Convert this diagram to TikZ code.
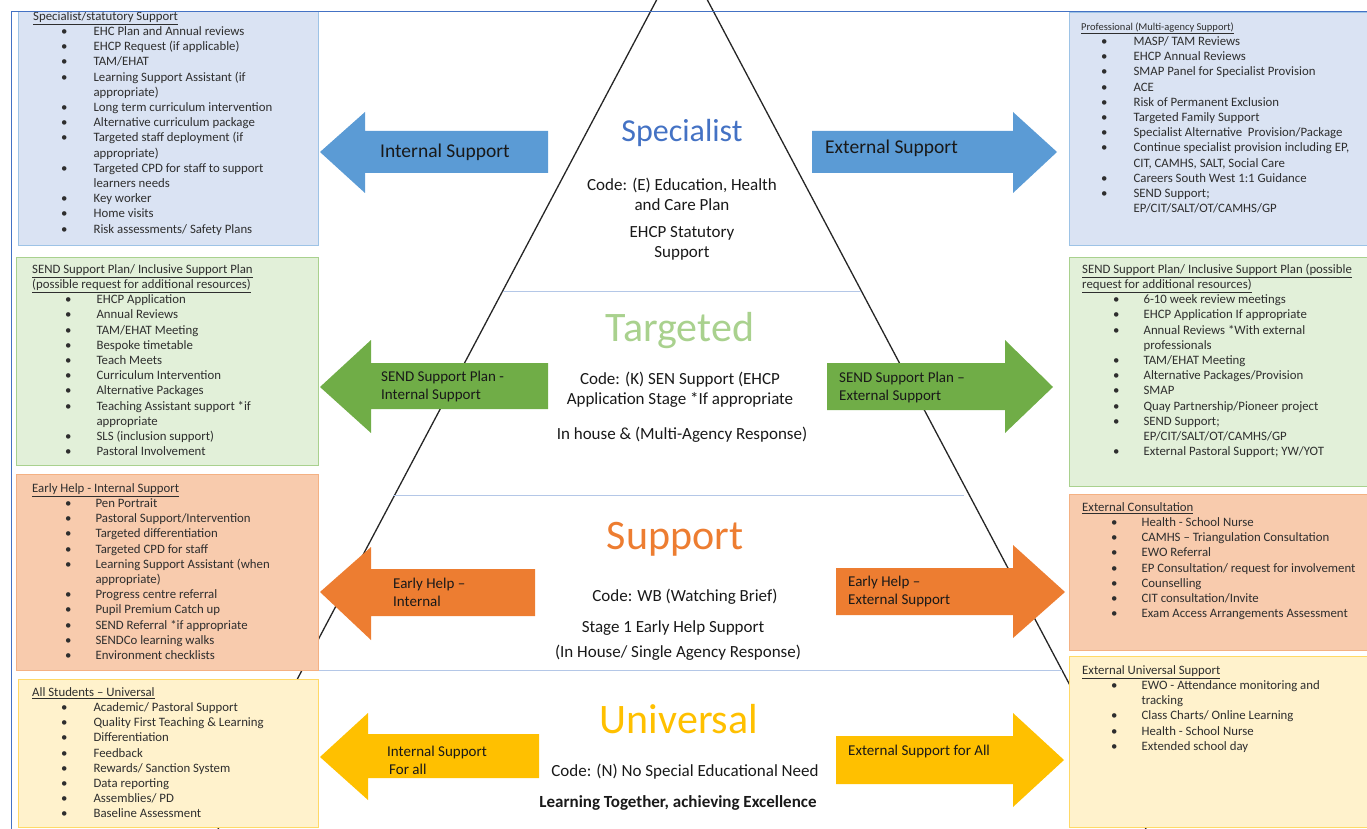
\documentclass[tikz,border=0pt]{standalone}
\usepackage{fontspec}
\setmainfont{Carlito}
\usepackage{tikz}

\definecolor{spblue}{HTML}{5B9BD5}
\definecolor{sptitle}{HTML}{4472C4}
\definecolor{spfill}{HTML}{DAE3F3}
\definecolor{spedge}{HTML}{9DC3E6}
\definecolor{tggreen}{HTML}{70AD47}
\definecolor{tgtitle}{HTML}{A9D18E}
\definecolor{tgfill}{HTML}{E2F0D9}
\definecolor{tgedge}{HTML}{A9D18E}
\definecolor{suorange}{HTML}{ED7D31}
\definecolor{sufill}{HTML}{F8CBAD}
\definecolor{suedge}{HTML}{F4B183}
\definecolor{unyellow}{HTML}{FFC000}
\definecolor{unfill}{HTML}{FFF2CC}
\definecolor{unedge}{HTML}{FFD966}
\definecolor{divline}{HTML}{B4C7E7}
\definecolor{bodytext}{HTML}{2E2E2E}

\newcommand{\btitle}[1]{\multicolumn{2}{@{}l@{}}{\underline{#1}}}
\newcommand{\blist}[3]{\begin{tabular}{@{\hspace{#1pt}}l@{\hspace{#2pt}}l@{}}#3\end{tabular}}

\tikzset{
	infobox/.style={anchor=north west, inner sep=0pt, line width=1.2pt},
	boxtext/.style={anchor=north west, inner sep=0pt, text=bodytext, font=\fontsize{12.8}{15.2}\selectfont},
	arrowtext/.style={anchor=west, align=left, inner sep=0pt, text=black!90, font=\fontsize{15}{18}\selectfont},
	leveltitle/.style={inner sep=0pt, font=\fontsize{42}{44}\selectfont},
	codetext/.style={align=center, inner sep=0pt, text=black!90, font=\fontsize{17}{20}\selectfont}
}

\begin{document}
\begin{tikzpicture}[x=1pt,y=-1pt]
		\useasboundingbox (0,0) rectangle (1367,829);

		%pyramid sides:
		\coordinate (apex) at (682,-48);
		\coordinate (baseL) at (218,829);
		\coordinate (baseR) at (1146,829);
		\draw[black!85, line width=1.3pt] (apex) -- (baseL);
		\draw[black!85, line width=1.3pt] (apex) -- (baseR);

		%level dividers:
		\draw[divline, line width=1pt] (503,291) -- (861,291);
		\draw[divline, line width=1pt] (393,495) -- (964,495);
		\draw[divline, line width=1pt] (302,670) -- (1062,670);

		%left boxes:
		\node[infobox, fill=spfill, draw=spedge, minimum width=300pt, minimum height=234pt] (lbox1) at (18,11) {};
		\node[infobox, fill=tgfill, draw=tgedge, minimum width=302pt, minimum height=208pt] (lbox2) at (16,257) {};
		\node[infobox, fill=sufill, draw=suedge, minimum width=302pt, minimum height=196pt] (lbox3) at (16,474) {};
		\node[infobox, fill=unfill, draw=unedge, minimum width=300pt, minimum height=148pt] (lbox4) at (18,679) {};

		%right boxes:
		\node[infobox, fill=spfill, draw=spedge, minimum width=298pt, minimum height=233pt] (rbox1) at (1069,12) {};
		\node[infobox, fill=tgfill, draw=tgedge, minimum width=298pt, minimum height=229pt] (rbox2) at (1069,257) {};
		\node[infobox, fill=sufill, draw=suedge, minimum width=298pt, minimum height=156pt] (rbox3) at (1069,494) {};
		\node[infobox, fill=unfill, draw=unedge, minimum width=298pt, minimum height=171pt] (rbox4) at (1069,656) {};

		%left lists
		\node[boxtext] (lbox1list) at (33,9.5) {\blist{28}{26}{
			\btitle{Specialist/statutory Support}\\
			\textbullet & EHC Plan and Annual reviews\\
			\textbullet & EHCP Request (if applicable)\\
			\textbullet & TAM/EHAT\\
			\textbullet & Learning Support Assistant (if\\
			& appropriate)\\
			\textbullet & Long term curriculum intervention\\
			\textbullet & Alternative curriculum package\\
			\textbullet & Targeted staff deployment (if\\
			& appropriate)\\
			\textbullet & Targeted CPD for staff to support\\
			& learners needs\\
			\textbullet & Key worker\\
			\textbullet & Home visits\\
			\textbullet & Risk assessments/ Safety Plans\\}};
		\node[boxtext] (lbox2list) at (32,262.5) {\blist{33}{25}{
			\btitle{SEND Support Plan/ Inclusive Support Plan}\\
			\btitle{(possible request for additional resources)}\\
			\textbullet & EHCP Application\\
			\textbullet & Annual Reviews\\
			\textbullet & TAM/EHAT Meeting\\
			\textbullet & Bespoke timetable\\
			\textbullet & Teach Meets\\
			\textbullet & Curriculum Intervention\\
			\textbullet & Alternative Packages\\
			\textbullet & Teaching Assistant support *if\\
			& appropriate\\
			\textbullet & SLS (inclusion support)\\
			\textbullet & Pastoral Involvement\\}};
		\node[boxtext] (lbox3list) at (32,481.5) {\blist{33}{24}{
			\btitle{Early Help - Internal Support}\\
			\textbullet & Pen Portrait\\
			\textbullet & Pastoral Support/Intervention\\
			\textbullet & Targeted differentiation\\
			\textbullet & Targeted CPD for staff\\
			\textbullet & Learning Support Assistant (when\\
			& appropriate)\\
			\textbullet & Progress centre referral\\
			\textbullet & Pupil Premium Catch up\\
			\textbullet & SEND Referral *if appropriate\\
			\textbullet & SENDCo learning walks\\
			\textbullet & Environment checklists\\}};
		\node[boxtext] (lbox4list) at (32,685.5) {\blist{29}{26}{
			\btitle{All Students -- Universal}\\
			\textbullet & Academic/ Pastoral Support\\
			\textbullet & Quality First Teaching \& Learning\\
			\textbullet & Differentiation\\
			\textbullet & Feedback\\
			\textbullet & Rewards/ Sanction System\\
			\textbullet & Data reporting\\
			\textbullet & Assemblies/ PD\\
			\textbullet & Baseline Assessment\\}};

		%right lists
		\node[boxtext] (rbox1list) at (1081,19.5) {\blist{20}{26}{
			\btitle{\fontsize{10.5}{12}\selectfont Professional (Multi-agency Support)}\\
			\textbullet & MASP/ TAM Reviews\\
			\textbullet & EHCP Annual Reviews\\
			\textbullet & SMAP Panel for Specialist Provision\\
			\textbullet & ACE\\
			\textbullet & Risk of Permanent Exclusion\\
			\textbullet & Targeted Family Support\\
			\textbullet & Specialist Alternative\ \ Provision/Package\\
			\textbullet & Continue specialist provision including EP,\\
			& CIT, CAMHS, SALT, Social Care\\
			\textbullet & Careers South West 1:1 Guidance\\
			\textbullet & SEND Support;\\
			& EP/CIT/SALT/OT/CAMHS/GP\\}};
		\node[boxtext] (rbox2list) at (1082,262.5) {\blist{31}{24}{
			\btitle{SEND Support Plan/ Inclusive Support Plan (possible}\\
			\btitle{request for additional resources)}\\
			\textbullet & 6-10 week review meetings\\
			\textbullet & EHCP Application If appropriate\\
			\textbullet & Annual Reviews *With external\\
			& professionals\\
			\textbullet & TAM/EHAT Meeting\\
			\textbullet & Alternative Packages/Provision\\
			\textbullet & SMAP\\
			\textbullet & Quay Partnership/Pioneer project\\
			\textbullet & SEND Support;\\
			& EP/CIT/SALT/OT/CAMHS/GP\\
			\textbullet & External Pastoral Support; YW/YOT\\}};
		\node[boxtext] (rbox3list) at (1082,500.5) {\blist{29}{24}{
			\btitle{External Consultation}\\
			\textbullet & Health - School Nurse\\
			\textbullet & CAMHS -- Triangulation Consultation\\
			\textbullet & EWO Referral\\
			\textbullet & EP Consultation/ request for involvement\\
			\textbullet & Counselling\\
			\textbullet & CIT consultation/Invite\\
			\textbullet & Exam Access Arrangements Assessment\\}};
		\node[boxtext] (rbox4list) at (1082,663.5) {\blist{29}{24}{
			\btitle{External Universal Support}\\
			\textbullet & EWO - Attendance monitoring and\\
			& tracking\\
			\textbullet & Class Charts/ Online Learning\\
			\textbullet & Health - School Nurse\\
			\textbullet & Extended school day\\}};

		%arrows out of the pyramid
		\fill[spblue] (320,152) -- (365,112) -- (365,131) -- (548,131) -- (548,173) -- (365,173) -- (365,193) -- cycle;
		\fill[spblue] (1057,152) -- (1013,112) -- (1013,131) -- (812,131) -- (812,173) -- (1013,173) -- (1013,193) -- cycle;
		\fill[tggreen] (320,387) -- (371,340) -- (371,363) -- (548,363) -- (548,409) -- (371,409) -- (371,433) -- cycle;
		\fill[tggreen] (1053,387) -- (1005,340) -- (1005,363) -- (827,363) -- (827,410) -- (1005,410) -- (1005,433) -- cycle;
		\fill[suorange] (320,592) -- (371,547) -- (371,569) -- (535,569) -- (535,616) -- (371,616) -- (371,640) -- cycle;
		\fill[suorange] (1065,592) -- (1013,545) -- (1013,568) -- (836,568) -- (836,615) -- (1013,615) -- (1013,638) -- cycle;
		\fill[unyellow] (320,757) -- (368,713) -- (368,734) -- (539,734) -- (539,778) -- (368,778) -- (368,800) -- cycle;
		\fill[unyellow] (1064,760) -- (1013,713) -- (1013,736) -- (836,736) -- (836,784) -- (1013,784) -- (1013,807) -- cycle;

		\node[arrowtext, font=\fontsize{19.5}{22}\selectfont] (spint) at (380,152) {Internal Support};
		\node[arrowtext, font=\fontsize{19.5}{22}\selectfont] (spext) at (825,148) {External Support};
		\node[arrowtext] (tgint) at (381,386) {SEND Support Plan -\\Internal Support};
		\node[arrowtext] (tgext) at (839,387) {SEND Support Plan --\\External Support};
		\node[arrowtext] (suint) at (393,592) {Early Help --\\Internal};
		\node[arrowtext] (suext) at (848,591) {Early Help --\\External Support};
		\node[arrowtext] (unint) at (387,760) {Internal Support\\\hspace{2pt}For all};
		\node[arrowtext] (unext) at (848,751) {External Support for All};

		%levels
		\node[leveltitle, text=sptitle, font=\fontsize{32}{36}\selectfont] (spname) at (682,133) {Specialist};
		\node[codetext] (spcode) at (682,194) {Code: (E) Education, Health\\and Care Plan};
		\node[codetext] (spstat) at (682,243) {EHCP Statutory\\Support};

		\node[leveltitle, text=tgtitle] (tgname) at (680,331) {Targeted};
		\node[codetext] (tgcode) at (680,390) {Code: (K) SEN Support (EHCP\\Application Stage *If appropriate};
		\node[codetext] (tgresp) at (682,435) {In house \& (Multi-Agency Response)};

		\node[leveltitle, text=suorange] (suname) at (675,539) {Support};
		\node[codetext] (sucode) at (685,597) {Code: WB (Watching Brief)};
		\node[codetext] (sustage) at (673,628) {Stage 1 Early Help Support};
		\node[codetext] (suresp) at (678,653) {(In House/ Single Agency Response)};

		\node[leveltitle, text=unyellow] (unname) at (679,719) {Universal};
		\node[codetext] (uncode) at (685,772) {Code: (N) No Special Educational Need};
		\node[codetext, font=\bfseries\fontsize{17}{20}\selectfont] (unmotto) at (678,803) {Learning Together, achieving Excellence};

		%frame
		\draw[sptitle, line width=1pt] (11,835) -- (11,12) -- (1372,12);
	\end{tikzpicture}
\end{document}
